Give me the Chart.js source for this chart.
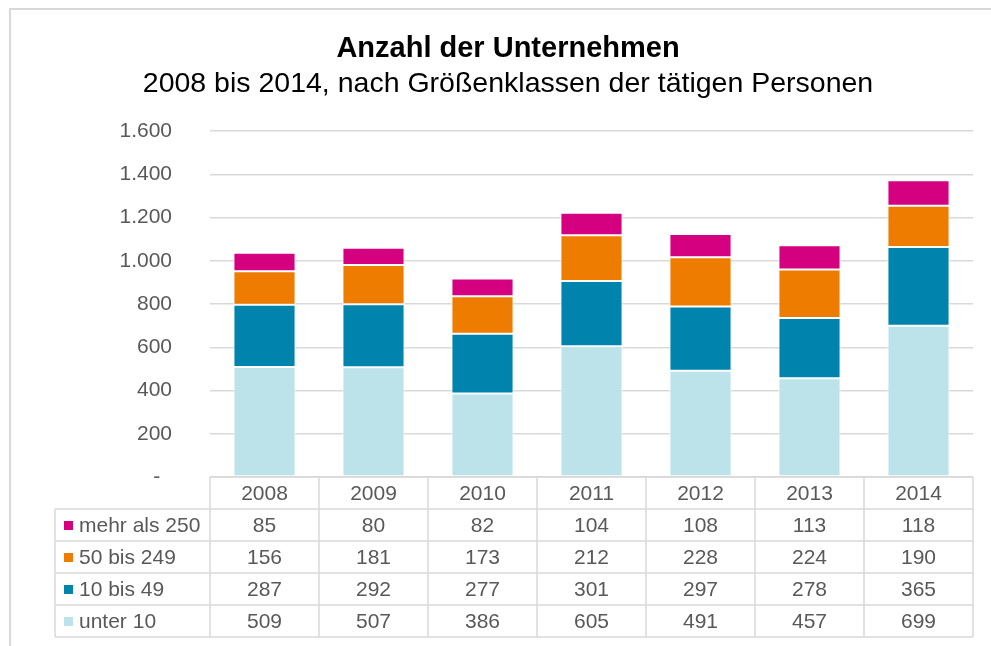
<!DOCTYPE html>
<html lang="de">
<head>
<meta charset="utf-8">
<title>Anzahl der Unternehmen</title>
<script src="https://cdn.jsdelivr.net/npm/chart.js@4/dist/chart.umd.min.js"></script>
<style>
  html, body { margin: 0; padding: 0; background: #fff; overflow: hidden; }
  #frame {
    position: absolute; left: 9px; top: 8px; width: 1100px; height: 800px;
    border: 2px solid #d9d9d9; box-sizing: border-box;
  }
  #wrap { position: absolute; left: 0; top: 0; width: 991px; height: 646px; }
</style>
</head>
<body>
<div id="frame"></div>
<div id="wrap"><canvas id="chart" width="991" height="646"></canvas></div>
<script>
'use strict';

const YEARS      = ['2008', '2009', '2010', '2011', '2012', '2013', '2014'];
const UNTER_10   = [509, 507, 386, 605, 491, 457, 699];
const BIS_49     = [287, 292, 277, 301, 297, 278, 365];
const BIS_249    = [156, 181, 173, 212, 228, 224, 190];
const MEHR_250   = [85, 80, 82, 104, 108, 113, 118];
const Y_TICKS    = [0, 200, 400, 600, 800, 1000, 1200, 1400, 1600];

const FONT      = "'Liberation Sans', Arial, sans-serif";
const TEXT_GREY = '#595959';
const LINE_GREY = '#d9d9d9';

// stacked from the bottom up
const SERIES = [
  { label: 'unter 10',     data: UNTER_10, color: '#bde3ea' },
  { label: '10 bis 49',    data: BIS_49,   color: '#0083ad' },
  { label: '50 bis 249',   data: BIS_249,  color: '#ee7c00' },
  { label: 'mehr als 250', data: MEHR_250, color: '#d5007f' },
];

function fmt(v) {
  if (v === 0) return '-  ';
  return v.toLocaleString('de-DE');
}

// data table under the plot, columns follow the x scale
const dataTable = {
  id: 'dataTable',
  afterDraw(chart) {
    const { ctx, chartArea, scales } = chart;
    const x      = scales.x;
    const n      = YEARS.length;
    const colW   = (chartArea.right - chartArea.left) / n;
    const rowH   = 32;
    const top    = chartArea.bottom;
    const legL   = 55;
    const rows   = [...SERIES].reverse();

    ctx.save();
    ctx.strokeStyle = LINE_GREY;
    ctx.lineWidth = 1.5;

    // horizontal lines
    ctx.beginPath();
    ctx.moveTo(chartArea.left, top);
    ctx.lineTo(chartArea.right, top);
    for (let r = 1; r <= rows.length + 1; r++) {
      const y = top + r * rowH;
      ctx.moveTo(legL, y);
      ctx.lineTo(chartArea.right, y);
    }
    // vertical lines
    ctx.moveTo(legL, top + rowH);
    ctx.lineTo(legL, top + (rows.length + 1) * rowH);
    for (let i = 0; i <= n; i++) {
      const xx = chartArea.left + i * colW;
      ctx.moveTo(xx, top);
      ctx.lineTo(xx, top + (rows.length + 1) * rowH);
    }
    ctx.stroke();

    ctx.font = `21px ${FONT}`;
    ctx.fillStyle = TEXT_GREY;
    ctx.textBaseline = 'middle';
    ctx.textAlign = 'center';

    YEARS.forEach((yr, i) => {
      ctx.fillText(yr, x.getPixelForValue(i), top + rowH / 2 + 1);
    });

    rows.forEach((s, r) => {
      const cy = top + (r + 1) * rowH + rowH / 2 + 1;
      ctx.fillStyle = s.color;
      ctx.fillRect(legL + 9, cy - 5, 9, 9);
      ctx.fillStyle = TEXT_GREY;
      ctx.textAlign = 'left';
      ctx.fillText(s.label, legL + 24, cy);
      ctx.textAlign = 'center';
      s.data.forEach((v, i) => {
        ctx.fillText(String(v), x.getPixelForValue(i), cy);
      });
    });
    ctx.restore();
  },
};

new Chart(document.getElementById('chart'), {
  type: 'bar',
  data: {
    labels: YEARS,
    datasets: SERIES.map(s => ({
      label: s.label,
      data: s.data,
      backgroundColor: s.color,
      borderColor: '#ffffff',
      borderWidth: 1,
      borderSkipped: false,
      barPercentage: 0.57,
      categoryPercentage: 1,
    })),
  },
  options: {
    responsive: false,
    animation: false,
    layout: { padding: { left: 43, right: 18, top: 0, bottom: 169 } },
    plugins: {
      legend: { display: false },
      tooltip: { enabled: false },
      title: {
        display: true,
        text: 'Anzahl der Unternehmen',
        color: '#000',
        font: { family: FONT, size: 29, weight: 'bold' },
        padding: { top: 32, bottom: 0 },
      },
      subtitle: {
        display: true,
        text: '2008 bis 2014, nach Größenklassen der tätigen Personen',
        color: '#000',
        font: { family: FONT, size: 28.5 },
        padding: { top: 0, bottom: 30 },
      },
    },
    scales: {
      x: {
        stacked: true,
        display: false,
      },
      y: {
        stacked: true,
        min: 0,
        max: 1600,
        afterBuildTicks: scale => { scale.ticks = Y_TICKS.map(v => ({ value: v })); },
        afterFit: scale => { scale.width = 167; },
        border: { display: false },
        grid: { color: LINE_GREY, lineWidth: 1.5, drawTicks: false },
        ticks: {
          color: TEXT_GREY,
          padding: 38,
          font: { family: FONT, size: 21 },
          callback: v => fmt(v),
        },
      },
    },
  },
  plugins: [dataTable],
});
</script>
</body>
</html>
